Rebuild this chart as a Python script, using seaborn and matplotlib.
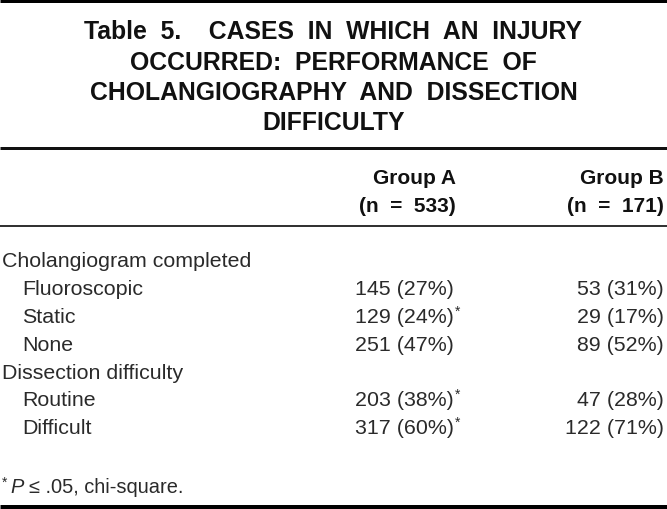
import matplotlib
matplotlib.use("Agg")
import matplotlib.pyplot as plt
import seaborn as sns

# ---- data ----
title_lines = ["Table 5.   CASES IN WHICH AN INJURY",
               "OCCURRED: PERFORMANCE OF",
               "CHOLANGIOGRAPHY AND DISSECTION",
               "DIFFICULTY"]
group_names = ["Group A", "Group B"]
group_n = [533, 171]
row_labels = ["Cholangiogram completed", "Fluoroscopic", "Static", "None",
              "Dissection difficulty", "Routine", "Difficult"]
row_is_header = [True, False, False, False, True, False, False]
a_counts = [None, 145, 129, 251, None, 203, 317]
a_pct = [None, 27, 24, 47, None, 38, 60]
a_sig = [False, False, True, False, False, True, True]
b_counts = [None, 53, 29, 89, None, 47, 122]
b_pct = [None, 31, 17, 52, None, 28, 71]
footnote = ", chi-square."

sns.set_theme(style="white")
plt.rcParams['font.family'] = ['Liberation Sans', 'DejaVu Sans']

fig = plt.figure(figsize=(6.67, 5.10), dpi=100)
ax = fig.add_axes([0, 0, 1, 1])
ax.set_xlim(0, 667)
ax.set_ylim(510, 0)
ax.axis('off')

px = 72 / 100.0  # points per pixel
inv = ax.transData.inverted()


def right_edge(t):
    fig.canvas.draw()
    bb = t.get_window_extent()
    return inv.transform((bb.x1, bb.y0))[0]


def widen(s):
    # wide word spacing as in the typeset original
    return s.replace("   ", "\0").replace(" ", "  ").replace("\0", "    ")


# rules
ax.plot([0, 667], [1.5, 1.5], color='black', lw=3 * px, solid_capstyle='butt')
ax.plot([0, 667], [148.5, 148.5], color='#111111', lw=3 * px, solid_capstyle='butt')
ax.plot([0, 667], [227, 227], color='#333333', lw=2 * px, solid_capstyle='butt')
ax.plot([0, 667], [507.5, 507.5], color='black', lw=5 * px, solid_capstyle='butt')

# title
title_y = [32, 62.5, 93, 123]
for t, y in zip(title_lines, title_y):
    ax.text(333.5, y, widen(t), ha='center', va='center', fontsize=17.8,
            fontweight='bold', color='#111111')

# header
hdr_fs = 15
for x, g, n in zip([456, 664], group_names, group_n):
    ax.text(x, 179, g, ha='right', va='center', fontsize=hdr_fs, fontweight='bold', color='#111111')
    ax.text(x, 207, f"(n  =  {n})", ha='right', va='center', fontsize=hdr_fs, fontweight='bold', color='#111111')

# body
body_fs = 15.4
body_col = '#2a2a2a'
row_y0 = 262
row_dy = 27.8
for i, lab in enumerate(row_labels):
    y = row_y0 + i * row_dy
    x = 2 if row_is_header[i] else 22
    ax.text(x, y, lab, ha='left', va='center', fontsize=body_fs, color=body_col)
    if a_counts[i] is not None:
        t = ax.text(355, y, f"{a_counts[i]} ({a_pct[i]}%)", ha='left', va='center',
                    fontsize=body_fs, color=body_col)
        if a_sig[i]:
            xe = right_edge(t)
            ax.text(xe + 1, y - 6, "*", ha='left', va='center', fontsize=10, color=body_col)
        ax.text(664, y, f"{b_counts[i]} ({b_pct[i]}%)", ha='right', va='center',
                fontsize=body_fs, color=body_col)

# footnote
fy = 488
ffs = 14.4
ax.text(2, fy - 5, "*", ha='left', va='center', fontsize=10, color=body_col)
tp = ax.text(10, fy, "P", ha='left', va='center', fontsize=ffs, style='italic', color=body_col)
xe = right_edge(tp)
ax.text(xe + 6, fy, "\u2264 .05" + footnote, ha='left', va='center', fontsize=ffs, color=body_col)

fig.savefig("out.png", dpi=100)
